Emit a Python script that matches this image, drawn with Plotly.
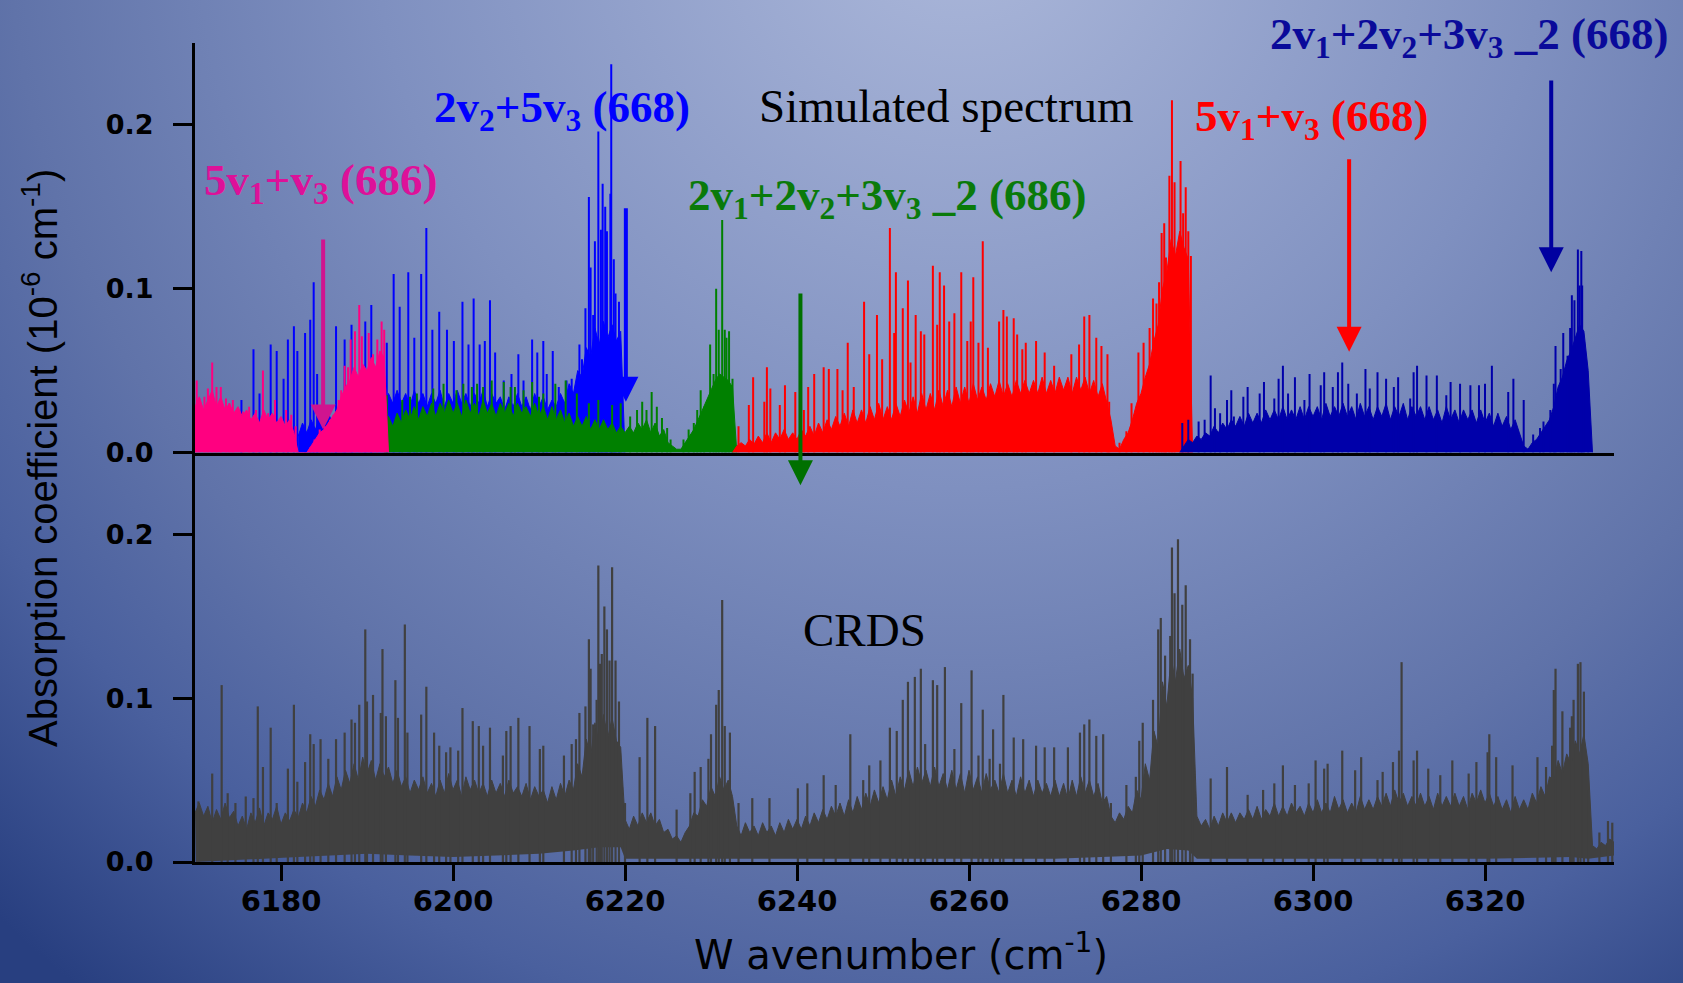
import base64
import plotly.graph_objects as go

# ------------------------------------------------------------------ data
# Simulated spectrum: 2v2+5v3 (668)  (blue) -- individual lines
blue_x = [6175.4, 6176.8, 6177.5, 6178.8, 6179.5, 6180.3, 6180.8, 6181.5, 6181.9, 6182.8, 6183.4, 6183.8,
          6184.2, 6186.4, 6187.4, 6188.2, 6189.8, 6190.5, 6192.3, 6193.1, 6193.8, 6194.8, 6195.5, 6196.3,
          6196.9, 6197.6, 6198.4, 6199.3, 6200.1, 6201.1, 6201.8, 6202.4, 6203.1, 6203.7, 6204.3, 6204.9,
          6205.9, 6206.8, 6207.6, 6208.2, 6209.2, 6209.8, 6210.5, 6210.9, 6211.6, 6212.3, 6213.2, 6213.8,
          6214.7, 6215.0, 6215.4, 6215.8, 6216.0, 6216.3, 6216.5, 6216.9, 6217.2, 6217.4, 6217.7, 6217.9,
          6218.3, 6218.4, 6218.7, 6218.9, 6219.3]
blue_h = [0.032, 0.063, 0.036, 0.066, 0.062, 0.045, 0.069, 0.077, 0.062, 0.073, 0.081, 0.104,
          0.048, 0.077, 0.069, 0.078, 0.080, 0.090, 0.067, 0.109, 0.089, 0.110, 0.070, 0.109,
          0.137, 0.075, 0.086, 0.075, 0.068, 0.092, 0.066, 0.094, 0.066, 0.068, 0.093, 0.061,
          0.044, 0.048, 0.060, 0.044, 0.069, 0.061, 0.068, 0.048, 0.062, 0.040, 0.044, 0.045,
          0.066, 0.057, 0.088, 0.156, 0.113, 0.084, 0.129, 0.196, 0.136, 0.164, 0.150, 0.135,
          0.158, 0.237, 0.118, 0.097, 0.092]
# dense (unresolved) part of the band, sampled every 0.5 cm-1 from 6182.0
blue_dense = [0.010, 0.018, 0.012, 0.020, 0.014, 0.022, 0.016, 0.024, 0.018, 0.026,
              0.020, 0.028, 0.022, 0.030, 0.024, 0.032, 0.026, 0.034, 0.028, 0.034,
              0.028, 0.036, 0.030, 0.038, 0.030, 0.036, 0.028, 0.038, 0.030, 0.036,
              0.028, 0.036, 0.030, 0.038, 0.028, 0.036, 0.030, 0.038, 0.030, 0.036,
              0.028, 0.036, 0.030, 0.038, 0.028, 0.036, 0.030, 0.034, 0.026, 0.034,
              0.028, 0.036, 0.028, 0.034, 0.026, 0.036, 0.028, 0.034, 0.026, 0.032,
              0.028, 0.036, 0.030, 0.042, 0.036, 0.050, 0.046, 0.064, 0.058, 0.076,
              0.066, 0.080, 0.070, 0.078, 0.068, 0.074, 0.0]

# 2v1+2v2+3v3_2 (686)  (green)
green_x = [6192.3, 6194.1, 6195.0, 6195.8, 6197.7, 6198.9, 6200.4, 6201.2, 6202.2, 6202.8, 6203.5, 6204.5,
           6205.9, 6206.7, 6207.2, 6208.2, 6209.2, 6210.0, 6210.5, 6211.9, 6213.1, 6214.4, 6215.8, 6216.9,
           6218.5, 6219.5, 6220.6, 6221.4, 6222.0, 6222.5, 6223.1, 6223.7, 6224.3, 6224.9, 6225.3, 6226.8,
           6227.4, 6228.0, 6228.4, 6228.8, 6229.2, 6229.9, 6230.3, 6230.6, 6230.9, 6231.3, 6231.6, 6231.8,
           6232.1, 6232.5]
green_h = [0.035, 0.032, 0.034, 0.036, 0.039, 0.042, 0.038, 0.042, 0.040, 0.042, 0.040, 0.044,
           0.043, 0.040, 0.040, 0.038, 0.043, 0.034, 0.036, 0.042, 0.044, 0.036, 0.030, 0.032,
           0.029, 0.030, 0.022, 0.026, 0.031, 0.026, 0.037, 0.028, 0.021, 0.015, 0.008, 0.008,
           0.014, 0.018, 0.026, 0.038, 0.028, 0.066, 0.048, 0.100, 0.075, 0.142, 0.075, 0.070,
           0.074, 0.045]
# sampled every 0.5 cm-1 from 6192.0
green_dense = [0.0, 0.022, 0.016, 0.024, 0.018, 0.026, 0.020, 0.028, 0.020, 0.028,
               0.022, 0.030, 0.022, 0.030, 0.024, 0.032, 0.024, 0.030, 0.022, 0.032,
               0.024, 0.030, 0.022, 0.032, 0.024, 0.030, 0.022, 0.030, 0.024, 0.030,
               0.022, 0.030, 0.024, 0.028, 0.022, 0.030, 0.022, 0.028, 0.020, 0.028,
               0.020, 0.026, 0.018, 0.024, 0.016, 0.022, 0.016, 0.022, 0.014, 0.020,
               0.014, 0.020, 0.014, 0.018, 0.012, 0.016, 0.012, 0.016, 0.012, 0.018,
               0.014, 0.020, 0.012, 0.018, 0.010, 0.014, 0.006, 0.004, 0.002, 0.002,
               0.006, 0.010, 0.014, 0.020, 0.026, 0.032, 0.038, 0.044, 0.048, 0.046,
               0.044, 0.040, 0.0]

# 5v1+v3 (686)  (pink)
pink_x = [6170.2, 6170.5, 6171.1, 6171.5, 6172.0, 6172.5, 6173.0, 6173.6, 6174.0, 6174.4, 6175.6, 6176.3,
          6177.1, 6177.9, 6178.5, 6179.3, 6180.6, 6181.2, 6181.7, 6183.4, 6183.9, 6184.5, 6185.1, 6185.7,
          6186.1, 6186.7, 6187.0, 6187.4, 6187.8, 6188.1, 6188.6, 6189.1, 6189.4, 6189.8, 6190.2, 6190.7,
          6191.2, 6191.7, 6192.0]
pink_h = [0.044, 0.033, 0.034, 0.039, 0.055, 0.040, 0.040, 0.033, 0.030, 0.032, 0.025, 0.028,
          0.026, 0.050, 0.024, 0.032, 0.026, 0.023, 0.016, 0.003, 0.008, 0.014, 0.016, 0.020,
          0.023, 0.032, 0.038, 0.053, 0.052, 0.069, 0.074, 0.090, 0.071, 0.048, 0.073, 0.060,
          0.069, 0.080, 0.075]
# sampled every 0.5 cm-1 from 6170.0
pink_dense = [0.028, 0.034, 0.026, 0.032, 0.038, 0.028, 0.034, 0.026, 0.030, 0.024,
              0.028, 0.022, 0.026, 0.020, 0.024, 0.018, 0.026, 0.020, 0.024, 0.018,
              0.022, 0.016, 0.020, 0.012, 0.0, 0.0, 0.0, 0.004, 0.008, 0.012,
              0.014, 0.018, 0.022, 0.026, 0.034, 0.040, 0.044, 0.052, 0.046, 0.054,
              0.050, 0.058, 0.052, 0.062, 0.058, 0.0]

# 5v1+v3 (668)  (red)
red_x = [6233.2, 6234.4, 6234.9, 6236.2, 6236.5, 6236.9, 6238.0, 6238.6, 6239.8, 6240.8, 6241.3, 6242.0,
         6243.1, 6243.7, 6244.7, 6245.3, 6245.9, 6246.6, 6247.8, 6248.4, 6249.3, 6249.9, 6250.8, 6251.3,
         6251.5, 6252.3, 6252.9, 6253.2, 6253.8, 6254.4, 6254.8, 6255.8, 6256.3, 6256.6, 6257.1, 6257.7,
         6258.3, 6259.1, 6259.8, 6260.2, 6260.5, 6261.1, 6261.6, 6262.2, 6263.5, 6264.0, 6264.4, 6265.2,
         6265.6, 6266.2, 6266.6, 6267.8, 6268.8, 6269.9, 6271.9, 6272.8, 6273.4, 6274.0, 6274.8, 6275.4,
         6276.1, 6276.3, 6277.5, 6278.3, 6278.9, 6279.7, 6280.3, 6281.0, 6281.4, 6281.8, 6282.1, 6282.4,
         6282.7, 6282.9, 6283.3, 6283.6, 6283.9, 6284.6, 6284.9, 6285.2, 6285.5, 6285.8]
red_h = [0.016, 0.029, 0.046, 0.031, 0.052, 0.039, 0.029, 0.041, 0.037, 0.026, 0.040, 0.048,
         0.052, 0.051, 0.051, 0.038, 0.067, 0.040, 0.092, 0.060, 0.084, 0.057, 0.137, 0.073,
         0.110, 0.088, 0.105, 0.055, 0.084, 0.074, 0.072, 0.114, 0.078, 0.110, 0.102, 0.080,
         0.085, 0.110, 0.068, 0.080, 0.107, 0.067, 0.129, 0.064, 0.080, 0.087, 0.083, 0.082,
         0.072, 0.063, 0.067, 0.068, 0.061, 0.053, 0.060, 0.066, 0.083, 0.084, 0.070, 0.065,
         0.060, 0.031, 0.006, 0.013, 0.030, 0.061, 0.067, 0.076, 0.094, 0.091, 0.104, 0.134,
         0.140, 0.119, 0.169, 0.215, 0.165, 0.178, 0.146, 0.162, 0.135, 0.120]
# sampled every 0.5 cm-1 from 6232.5
red_dense = [0.0, 0.004, 0.006, 0.004, 0.008, 0.005, 0.010, 0.006, 0.012,
             0.006, 0.012, 0.008, 0.014, 0.008, 0.012, 0.008, 0.014, 0.010, 0.016,
             0.010, 0.018, 0.012, 0.020, 0.014, 0.022, 0.016, 0.024, 0.016, 0.026,
             0.018, 0.026, 0.018, 0.028, 0.020, 0.030, 0.020, 0.028, 0.020, 0.030,
             0.022, 0.032, 0.024, 0.034, 0.024, 0.036, 0.026, 0.036, 0.026, 0.038,
             0.028, 0.038, 0.028, 0.040, 0.030, 0.040, 0.030, 0.042, 0.032, 0.040,
             0.032, 0.042, 0.034, 0.044, 0.034, 0.042, 0.034, 0.044, 0.036, 0.044,
             0.036, 0.044, 0.036, 0.046, 0.036, 0.044, 0.036, 0.046, 0.038, 0.046,
             0.036, 0.046, 0.038, 0.046, 0.036, 0.044, 0.034, 0.042, 0.030, 0.020,
             0.004, 0.002, 0.008, 0.012, 0.020, 0.030, 0.036, 0.046, 0.054, 0.068,
             0.078, 0.100, 0.110, 0.130, 0.120, 0.135, 0.125, 0.118, 0.0]

# 2v1+2v2+3v3_2 (668)  (navy)
navy_x = [6284.8, 6285.5, 6286.7, 6287.4, 6288.1, 6288.6, 6289.2, 6290.0, 6290.5, 6290.8, 6291.9, 6292.4,
          6293.8, 6294.3, 6295.5, 6296.0, 6296.5, 6297.1, 6297.9, 6299.0, 6299.6, 6300.9, 6301.3, 6302.3,
          6302.9, 6303.4, 6304.1, 6305.1, 6306.1, 6306.6, 6307.5, 6308.5, 6309.4, 6309.9, 6311.3, 6311.7,
          6312.1, 6313.2, 6314.4, 6315.5, 6316.0, 6317.1, 6318.3, 6319.3, 6320.0, 6320.8, 6322.7, 6323.3,
          6324.5, 6325.6, 6326.4, 6326.8, 6327.6, 6328.0, 6328.2, 6328.8, 6329.1, 6329.6, 6329.9, 6330.1,
          6330.4, 6330.8, 6331.0, 6331.2, 6331.3, 6331.5, 6332.0]
navy_h = [0.018, 0.020, 0.019, 0.020, 0.047, 0.027, 0.024, 0.032, 0.038, 0.022, 0.034, 0.040,
          0.036, 0.043, 0.033, 0.045, 0.053, 0.036, 0.046, 0.032, 0.048, 0.041, 0.049, 0.040,
          0.049, 0.055, 0.042, 0.036, 0.051, 0.039, 0.049, 0.045, 0.040, 0.046, 0.033, 0.049,
          0.053, 0.047, 0.047, 0.035, 0.043, 0.042, 0.041, 0.041, 0.042, 0.053, 0.037, 0.045,
          0.032, 0.011, 0.015, 0.019, 0.026, 0.042, 0.065, 0.051, 0.073, 0.059, 0.076, 0.096,
          0.093, 0.124, 0.102, 0.123, 0.102, 0.068, 0.035]
# sampled every 0.5 cm-1 from 6284.5
navy_dense = [0.0, 0.004, 0.008, 0.006, 0.010, 0.008, 0.012, 0.010, 0.016,
              0.012, 0.018, 0.014, 0.020, 0.016, 0.022, 0.016, 0.024, 0.018, 0.024,
              0.018, 0.026, 0.020, 0.026, 0.020, 0.028, 0.020, 0.026, 0.020, 0.028,
              0.020, 0.028, 0.022, 0.028, 0.020, 0.030, 0.022, 0.028, 0.022, 0.030,
              0.022, 0.028, 0.020, 0.030, 0.022, 0.028, 0.020, 0.028, 0.022, 0.030,
              0.020, 0.028, 0.022, 0.030, 0.020, 0.028, 0.022, 0.028, 0.020, 0.028,
              0.020, 0.026, 0.018, 0.028, 0.020, 0.026, 0.018, 0.026, 0.020, 0.026,
              0.018, 0.026, 0.018, 0.024, 0.016, 0.024, 0.016, 0.022, 0.014, 0.020,
              0.012, 0.004, 0.002, 0.006, 0.008, 0.012, 0.016, 0.020, 0.028, 0.040,
              0.046, 0.056, 0.062, 0.070, 0.078, 0.074, 0.050, 0.0]

# CRDS measured spectrum (grey): strong lines
crds_x = [6170.4, 6172.0, 6173.1, 6173.8, 6174.7, 6175.9, 6176.8, 6177.3, 6177.9, 6178.8, 6179.5, 6180.8,
          6181.5, 6181.9, 6182.8, 6183.4, 6183.8, 6184.6, 6185.5, 6186.4, 6187.4, 6188.2, 6188.6, 6189.1,
          6189.8, 6190.0, 6190.7, 6191.6, 6191.8, 6192.2, 6193.3, 6193.6, 6194.4, 6194.7, 6196.3, 6196.9,
          6197.8, 6198.4, 6199.2, 6199.7, 6200.6, 6201.1, 6202.3, 6203.0, 6203.5, 6204.3, 6205.8, 6206.2,
          6206.7, 6207.6, 6208.9, 6210.1, 6210.5, 6212.9, 6213.8, 6214.3, 6214.7, 6215.4, 6215.8, 6216.0,
          6216.3, 6216.7, 6216.9, 6217.1, 6217.3, 6217.6, 6217.9, 6218.2, 6218.5, 6218.9, 6219.3, 6220.0,
          6221.7, 6222.6, 6223.5, 6226.0, 6227.6, 6228.1, 6228.8, 6229.7, 6230.0, 6230.6, 6230.9, 6231.3,
          6231.6, 6232.2, 6233.2, 6234.8, 6236.8, 6240.1, 6241.2, 6243.1, 6244.5, 6246.2, 6247.7, 6248.4,
          6249.7, 6250.8, 6251.6, 6252.3, 6252.9, 6253.7, 6254.4, 6254.9, 6255.8, 6256.3, 6257.2, 6258.3,
          6259.1, 6260.3, 6261.1, 6261.6, 6262.4, 6262.8, 6263.6, 6264.0, 6265.2, 6266.3, 6267.8, 6268.8,
          6269.9, 6271.5, 6272.9, 6273.4, 6274.0, 6274.8, 6275.6, 6276.5, 6278.3, 6279.4, 6279.8, 6280.2,
          6281.4, 6282.0, 6282.3, 6282.8, 6283.4, 6283.6, 6283.9, 6284.3, 6284.8, 6285.2, 6285.7, 6286.0,
          6288.1, 6290.0, 6292.4, 6294.2, 6295.5, 6296.5, 6297.9, 6299.5, 6300.3, 6301.3, 6301.7, 6303.4,
          6304.9, 6305.6, 6307.5, 6308.1, 6309.3, 6310.0, 6310.3, 6311.7, 6312.1, 6313.4, 6314.8, 6316.2,
          6318.1, 6319.0, 6320.3, 6320.5, 6321.3, 6323.2, 6326.1, 6327.1, 6327.8, 6328.0, 6328.2, 6329.0,
          6329.9, 6330.1, 6330.3, 6330.8, 6331.1, 6331.5, 6332.0, 6333.3, 6334.3, 6334.8]
crds_h = [0.037, 0.054, 0.108, 0.042, 0.036, 0.040, 0.039, 0.095, 0.058, 0.082, 0.036, 0.057,
          0.096, 0.049, 0.061, 0.078, 0.072, 0.075, 0.063, 0.075, 0.079, 0.087, 0.085, 0.096,
          0.142, 0.098, 0.102, 0.091, 0.130, 0.089, 0.111, 0.088, 0.145, 0.079, 0.090, 0.107,
          0.079, 0.071, 0.067, 0.070, 0.068, 0.094, 0.086, 0.083, 0.071, 0.082, 0.065, 0.080,
          0.083, 0.088, 0.083, 0.069, 0.071, 0.065, 0.072, 0.075, 0.091, 0.095, 0.136, 0.118,
          0.084, 0.099, 0.181, 0.121, 0.127, 0.156, 0.142, 0.123, 0.180, 0.123, 0.098, 0.036,
          0.064, 0.088, 0.083, 0.032, 0.042, 0.055, 0.058, 0.063, 0.078, 0.096, 0.105, 0.160,
          0.083, 0.079, 0.036, 0.039, 0.039, 0.045, 0.048, 0.053, 0.047, 0.078, 0.050, 0.059,
          0.062, 0.082, 0.080, 0.099, 0.110, 0.113, 0.118, 0.072, 0.111, 0.108, 0.119, 0.069,
          0.097, 0.117, 0.065, 0.093, 0.063, 0.081, 0.060, 0.102, 0.076, 0.075, 0.071, 0.070,
          0.070, 0.070, 0.079, 0.084, 0.087, 0.077, 0.078, 0.036, 0.047, 0.052, 0.074, 0.085,
          0.099, 0.142, 0.149, 0.126, 0.138, 0.192, 0.164, 0.197, 0.157, 0.169, 0.136, 0.115,
          0.051, 0.058, 0.041, 0.044, 0.048, 0.059, 0.047, 0.048, 0.062, 0.057, 0.060, 0.068,
          0.056, 0.064, 0.050, 0.055, 0.061, 0.068, 0.122, 0.062, 0.068, 0.057, 0.053, 0.062,
          0.054, 0.061, 0.067, 0.078, 0.064, 0.059, 0.064, 0.058, 0.071, 0.105, 0.118, 0.092,
          0.082, 0.089, 0.099, 0.121, 0.122, 0.104, 0.044, 0.018, 0.025, 0.024]
# dense unresolved CRDS signal: top, sampled every 0.5 cm-1 from 6170.0
crds_dense_top = [0.030, 0.036, 0.028, 0.034, 0.024, 0.032, 0.026, 0.036, 0.027, 0.031, 0.022,
                  0.028, 0.020, 0.030, 0.024, 0.033, 0.022, 0.030, 0.026, 0.034, 0.023, 0.030, 0.025,
                  0.032, 0.027, 0.036, 0.030, 0.040, 0.034, 0.044, 0.038, 0.048, 0.040,
                  0.052, 0.044, 0.056, 0.048, 0.060, 0.050, 0.064, 0.054, 0.062, 0.050, 0.060, 0.052,
                  0.058, 0.048, 0.056, 0.046, 0.052, 0.042, 0.050, 0.044, 0.052, 0.042, 0.048, 0.040,
                  0.050, 0.042, 0.054, 0.044, 0.050, 0.040, 0.052, 0.044, 0.050, 0.042, 0.048, 0.040,
                  0.050, 0.042, 0.048, 0.040, 0.050, 0.042, 0.046, 0.040, 0.048, 0.038, 0.046, 0.040,
                  0.044, 0.036, 0.046, 0.038, 0.048, 0.040, 0.050, 0.044,
                  0.060, 0.052, 0.075, 0.064, 0.085, 0.072, 0.090, 0.076, 0.088, 0.074, 0.070,
                  0.026, 0.020, 0.028, 0.022, 0.030, 0.024, 0.030, 0.022, 0.026, 0.018, 0.020, 0.014, 0.016,
                  0.012, 0.018, 0.022, 0.030, 0.028, 0.038, 0.034, 0.046, 0.040, 0.052, 0.044, 0.050, 0.040,
                  0.022, 0.016, 0.024, 0.018, 0.022, 0.016, 0.024, 0.018, 0.022, 0.016, 0.024, 0.018, 0.026,
                  0.020, 0.026,
                  0.020, 0.028, 0.022, 0.030, 0.024, 0.032, 0.026, 0.034, 0.028, 0.036, 0.028, 0.038,
                  0.030, 0.040, 0.032, 0.042, 0.034, 0.044, 0.036, 0.046, 0.038, 0.050, 0.040, 0.052,
                  0.044, 0.056, 0.046, 0.058, 0.048, 0.056, 0.046, 0.058, 0.046, 0.054, 0.044, 0.056,
                  0.044, 0.054, 0.042, 0.056, 0.044, 0.052, 0.042, 0.054, 0.044, 0.050, 0.042, 0.054,
                  0.042, 0.050, 0.040, 0.052, 0.042, 0.050, 0.040, 0.050, 0.042, 0.048, 0.040, 0.050,
                  0.040, 0.048, 0.038, 0.050, 0.040, 0.052, 0.042, 0.050, 0.040, 0.048, 0.036, 0.040,
                  0.028, 0.024, 0.030, 0.026, 0.034, 0.030,
                  0.044, 0.038, 0.060, 0.050, 0.080, 0.070, 0.110, 0.095, 0.125, 0.110, 0.130, 0.112,
                  0.120, 0.100,
                  0.028, 0.022, 0.026, 0.020, 0.028, 0.022, 0.030, 0.024, 0.030, 0.024, 0.030, 0.026,
                  0.032, 0.026, 0.034, 0.026, 0.032, 0.028, 0.036, 0.028, 0.034, 0.028, 0.036, 0.030,
                  0.034, 0.028, 0.036, 0.030, 0.038, 0.030, 0.036, 0.030, 0.040, 0.032, 0.038, 0.030,
                  0.036, 0.030, 0.040, 0.032, 0.038, 0.032, 0.040, 0.034, 0.042, 0.034, 0.044, 0.036,
                  0.042, 0.034, 0.040, 0.034, 0.042, 0.034, 0.040, 0.032, 0.042, 0.034, 0.040, 0.034,
                  0.042, 0.034, 0.040, 0.032, 0.042, 0.036, 0.044, 0.036, 0.042, 0.034, 0.040, 0.032,
                  0.038, 0.030, 0.040, 0.032, 0.038, 0.032, 0.042, 0.036, 0.046, 0.040, 0.052, 0.050,
                  0.062, 0.054, 0.066, 0.060, 0.074, 0.066, 0.078, 0.060,
                  0.010, 0.008, 0.012, 0.010, 0.014, 0.012]
# baseline (lower edge) of the CRDS trace
crds_lo_x = [6170.1, 6175.0, 6178.0, 6182.0, 6186.0, 6190.0, 6195.0, 6200.0, 6205.0, 6210.0, 6214.0,
             6217.0, 6219.5, 6220.0, 6230.0, 6240.0, 6250.0, 6260.0, 6270.0, 6280.0, 6283.0, 6285.5,
             6286.5, 6300.0, 6320.0, 6330.0, 6332.0, 6335.0]
crds_lo_y = [0.0, 0.001, 0.002, 0.003, 0.004, 0.005, 0.004, 0.003, 0.004, 0.005, 0.007,
             0.009, 0.009, 0.002, 0.002, 0.002, 0.002, 0.002, 0.002, 0.004, 0.008, 0.007,
             0.002, 0.002, 0.002, 0.003, 0.002, 0.004]

x_ticks = [6180, 6200, 6220, 6240, 6260, 6280, 6300, 6320]
y_ticks = [0.0, 0.1, 0.2]
y_ticktext = ["0.0", "0.1", "0.2"]

# sampling grids of the dense parts (start, step 0.5 cm-1)
STEP = 0.5
def grid(start, vals):
    return [start + STEP * i for i in range(len(vals))]

pink_dense_x = grid(6170.0, pink_dense)
blue_dense_x = grid(6182.0, blue_dense)
green_dense_x = grid(6192.0, green_dense)
red_dense_x = grid(6232.5, red_dense)
navy_dense_x = grid(6284.5, navy_dense)
crds_dense_x = grid(6170.0, crds_dense_top)


def sticks(xs, hs):
    X, Y = [], []
    for x, h in zip(xs, hs):
        X += [x, x, None]
        Y += [0, h, None]
    return X, Y


fig = go.Figure()

bands = [
    (blue_dense_x, blue_dense, blue_x, blue_h, "#0000FF"),
    (green_dense_x, green_dense, green_x, green_h, "#008000"),
    (pink_dense_x, pink_dense, pink_x, pink_h, "#FF0080"),
    (red_dense_x, red_dense, red_x, red_h, "#FF0000"),
    (navy_dense_x, navy_dense, navy_x, navy_h, "#0000AA"),
]
for ex, ey, sx, sh, col in bands:
    fig.add_trace(go.Scatter(x=ex, y=ey, mode="lines", fill="tozeroy", fillcolor=col,
                             line=dict(color=col, width=1), xaxis="x", yaxis="y",
                             hoverinfo="skip", showlegend=False))
    X, Y = sticks(sx, sh)
    fig.add_trace(go.Scatter(x=X, y=Y, mode="lines", line=dict(color=col, width=2),
                             xaxis="x", yaxis="y", hoverinfo="skip", showlegend=False))

# CRDS
fig.add_trace(go.Scatter(x=crds_lo_x, y=crds_lo_y, mode="lines", line=dict(color="#404040", width=0),
                         xaxis="x2", yaxis="y2", hoverinfo="skip", showlegend=False))
fig.add_trace(go.Scatter(x=crds_dense_x, y=crds_dense_top, mode="lines", fill="tonexty", fillcolor="#404040",
                         line=dict(color="#404040", width=1), xaxis="x2", yaxis="y2",
                         hoverinfo="skip", showlegend=False))
X, Y = sticks(crds_x, crds_h)
fig.add_trace(go.Scatter(x=X, y=Y, mode="lines", line=dict(color="#404040", width=2.2),
                         xaxis="x2", yaxis="y2", hoverinfo="skip", showlegend=False))

# ------------------------------------------------------------------ background gradient
svg = ('<svg xmlns="http://www.w3.org/2000/svg" width="1683" height="983" viewBox="0 0 1683 983">'
       '<defs><radialGradient id="g" gradientUnits="userSpaceOnUse" cx="960" cy="-100" r="1400">'
       '<stop offset="0" stop-color="#ADB9DB"/>'
       '<stop offset="0.42" stop-color="#7F90C0"/>'
       '<stop offset="0.68" stop-color="#6073A9"/>'
       '<stop offset="0.82" stop-color="#4A609E"/>'
       '<stop offset="1" stop-color="#283F80"/>'
       '</radialGradient></defs>'
       '<rect width="1683" height="983" fill="url(#g)"/></svg>')
src = "data:image/svg+xml;base64," + base64.b64encode(svg.encode()).decode()

L, R, T, B = 195, 69, 43, 121
W, H = 1683, 983
PW, PH = W - L - R, H - T - B

fig.add_layout_image(dict(source=src, xref="paper", yref="paper", x=-L / PW, y=1 + T / PH,
                          sizex=W / PW, sizey=H / PH, xanchor="left", yanchor="top",
                          sizing="stretch", layer="below"))

tickfont = dict(family="DejaVu Sans, sans-serif", size=27, color="black", weight="bold")
axcommon = dict(showgrid=False, zeroline=False, showline=True, linecolor="black", linewidth=3)

fig.update_layout(
    width=W, height=H,
    margin=dict(l=L, r=R, t=T, b=B),
    paper_bgcolor="#5A6EA5", plot_bgcolor="rgba(0,0,0,0)",
    showlegend=False,
    xaxis=dict(domain=[0, 1], anchor="y", range=[6170, 6335], showticklabels=False, ticks="",
               **axcommon),
    yaxis=dict(domain=[0.5, 1], anchor="x", range=[0, 0.25], tickvals=y_ticks, ticktext=y_ticktext,
               ticks="outside", ticklen=19, tickwidth=3, tickcolor="black", tickfont=tickfont,
               ticklabelstandoff=14, **axcommon),
    xaxis2=dict(domain=[0, 1], anchor="y2", range=[6170, 6335], tickvals=x_ticks,
                ticks="outside", ticklen=16, tickwidth=3, tickcolor="black",
                tickfont=dict(tickfont, size=29), ticklabelstandoff=-5, **axcommon),
    yaxis2=dict(domain=[0, 0.5], anchor="x2", range=[0, 0.25], tickvals=y_ticks, ticktext=y_ticktext,
                ticks="outside", ticklen=19, tickwidth=3, tickcolor="black", tickfont=tickfont,
                ticklabelstandoff=14, **axcommon),
)

# ------------------------------------------------------------------ labels
serif = "Liberation Serif, Times New Roman, serif"
labels = [
    ("5v<sub>1</sub>+v<sub>3</sub> (686)", 320, 183, "#DD1199", True, 45),
    ("2v<sub>2</sub>+5v<sub>3</sub> (668)", 562, 110, "#0000FF", True, 45),
    ("Simulated spectrum", 946, 106, "black", False, 47),
    ("2v<sub>1</sub>+2v<sub>2</sub>+3v<sub>3</sub> _2 (686)", 887, 198, "#0A7A0A", True, 45),
    ("5v<sub>1</sub>+v<sub>3</sub> (668)", 1311, 119, "#FF0000", True, 45),
    ("2v<sub>1</sub>+2v<sub>2</sub>+3v<sub>3</sub> _2 (668)", 1469, 37, "#0A0A9A", True, 45),
    ("CRDS", 864, 630, "black", False, 47),
]
for txt, px, py, col, bold, sz in labels:
    fig.add_annotation(text=txt, xref="paper", yref="paper", x=(px - L) / PW, y=(H - B - py) / PH,
                       xanchor="center", yanchor="middle", showarrow=False,
                       font=dict(family=serif, size=sz, color=col, weight="bold" if bold else "normal"))

# arrows (x, tip, tail) in data units of the upper panel
arrows = [
    (6184.9, 0.014, 0.131, "#D0148F"),
    (6220.1, 0.031, 0.150, "#0000FF"),
    (6240.4, -0.020, 0.098, "#007000"),
    (6304.2, 0.0615, 0.180, "#FF0000"),
    (6327.7, 0.110, 0.228, "#0000A0"),
]
for xx, tip, tail, col in arrows:
    fig.add_annotation(x=xx, y=tip, ax=xx, ay=tail, xref="x", yref="y", axref="x", ayref="y",
                       text="", showarrow=True, arrowhead=2, arrowsize=1.25, arrowwidth=4,
                       arrowcolor=col, standoff=0)

# axis titles
fig.add_annotation(text="Absorption coefficient (10<sup>-6</sup> cm<sup>-1</sup>)", xref="paper", yref="paper",
                   x=(40 - L) / PW, y=(H - B - 458) / PH, textangle=-90, showarrow=False,
                   xanchor="center", yanchor="middle",
                   font=dict(family="Liberation Sans, Arial, sans-serif", size=40, color="black"))
fig.add_annotation(text="W avenumber (cm<sup>-1</sup>)", xref="paper", yref="paper",
                   x=(901 - L) / PW, y=(H - B - 952) / PH, showarrow=False,
                   xanchor="center", yanchor="middle",
                   font=dict(family="DejaVu Sans, sans-serif", size=40, color="black"))

fig.write_html("out.html", config={"displayModeBar": False},
               post_script="document.body.style.margin='0';document.body.style.overflow='hidden';")
